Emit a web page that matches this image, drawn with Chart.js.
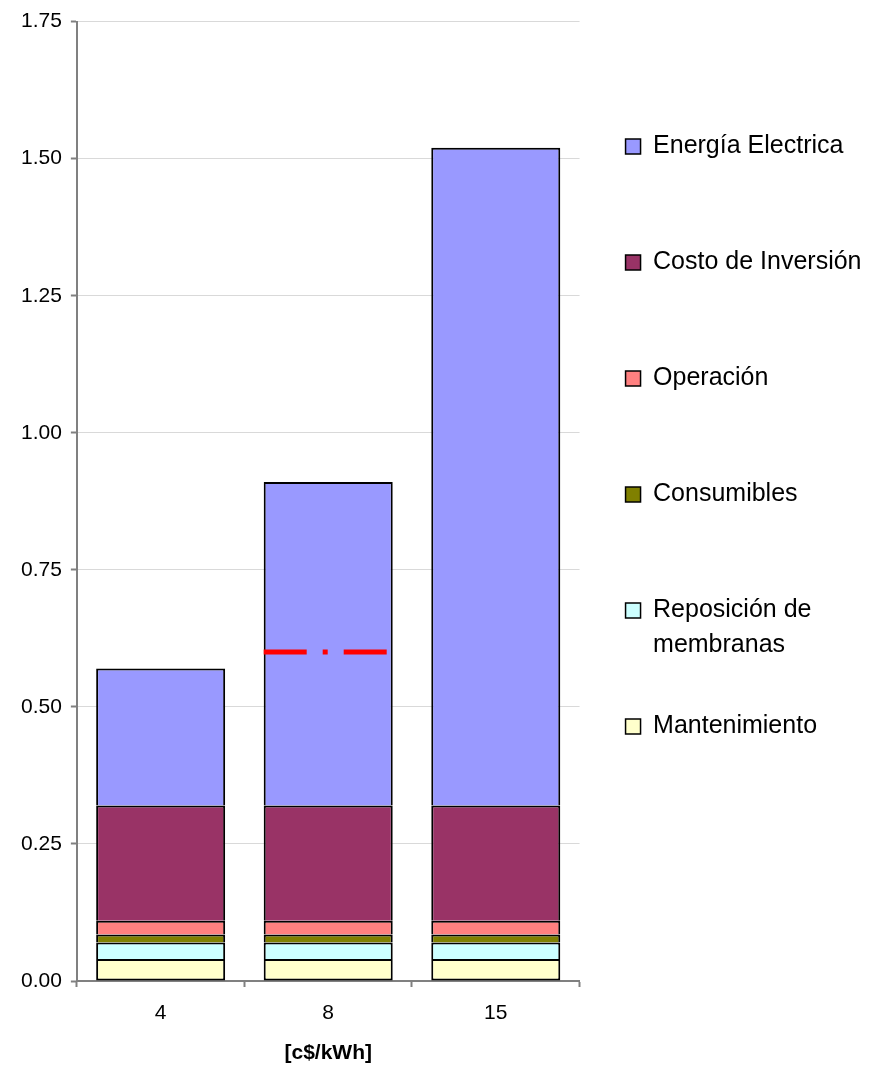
<!DOCTYPE html>
<html>
<head>
<meta charset="utf-8">
<script src="https://cdn.jsdelivr.net/npm/chart.js@4/dist/chart.umd.min.js"></script>
<style>
  html, body { margin: 0; padding: 0; background: #ffffff; }
  #wrap { width: 883px; height: 1070px; }
</style>
</head>
<body>
<div id="wrap"><canvas id="chart" width="883" height="1070"></canvas></div>
<script>
// Electricity price scenarios (x axis)
const categories = ['4', '8', '15'];

// Cost components per scenario, stacked bottom to top
const mantenimiento    = [0.04, 0.04, 0.04];
const reposicion       = [0.03, 0.03, 0.03];
const consumibles      = [0.015, 0.015, 0.015];
const operacion        = [0.025, 0.025, 0.025];
const costoInversion   = [0.21, 0.21, 0.21];
const energiaElectrica = [0.25, 0.59, 1.20];

const seriesLabels = [
  'Mantenimiento',
  ['Reposición de', 'membranas'],
  'Consumibles',
  'Operación',
  'Costo de Inversión',
  'Energía Electrica'
];

// Reference level marked over one of the bars
const referenceValue = 0.60;
const referenceCategory = '8';

// Axis range and labels
const yMin = 0, yMax = 1.75, yStep = 0.25;
const xTitle = '[c$/kWh]';

const FONT = "'Liberation Sans', Arial, sans-serif";
const AXIS_GREY = '#808080';

const seriesValues = [mantenimiento, reposicion, consumibles, operacion, costoInversion, energiaElectrica];
const seriesColors = ['#ffffcc', '#ccffff', '#808000', '#ff8080', '#993366', '#9999ff'];

const datasets = seriesValues.map((values, i) => ({
  label: seriesLabels[i],
  data: values,
  backgroundColor: seriesColors[i],
  borderColor: '#000000',
  borderWidth: 2,
  borderSkipped: i === 0 ? false : 'start',
  categoryPercentage: 1.0,
  barPercentage: 0.77
}));

// Dash-dot red line across the chosen bar at the reference level
const referenceLinePlugin = {
  id: 'referenceLine',
  afterDatasetsDraw(chart) {
    const idx = categories.indexOf(referenceCategory);
    const meta = chart.getDatasetMeta(chart.data.datasets.length - 1);
    const bar = meta.data[idx];
    if (!bar) return;
    const { x, width } = bar.getProps(['x', 'width'], true);
    const y = chart.scales.y.getPixelForValue(referenceValue);
    const ctx = chart.ctx;
    ctx.save();
    ctx.strokeStyle = '#ff0000';
    ctx.lineWidth = 5;
    ctx.lineCap = 'butt';
    ctx.setLineDash([43, 16, 5, 16]);
    ctx.beginPath();
    ctx.moveTo(x - width / 2, y);
    ctx.lineTo(x + width / 2, y);
    ctx.stroke();
    ctx.restore();
  }
};

new Chart(document.getElementById('chart'), {
  type: 'bar',
  data: { labels: categories, datasets },
  options: {
    responsive: false,
    devicePixelRatio: 1,
    animation: false,
    layout: { padding: { top: 4, right: 11.5, bottom: 0, left: 12 } },
    plugins: {
      tooltip: { enabled: false },
      legend: {
        position: 'right',
        align: 'start',
        reverse: true,
        maxWidth: 320,
        title: {
          display: true,
          text: '',
          padding: { top: 74, bottom: 0 },
          font: { size: 10, lineHeight: '10px' }
        },
        labels: {
          boxWidth: 15,
          boxHeight: 15,
          padding: 46,
          color: '#000000',
          font: { family: FONT, size: 25, lineHeight: '35px' },
          generateLabels(chart) {
            const items = Chart.defaults.plugins.legend.labels.generateLabels(chart);
            items.forEach(item => {
              item.text = Array.isArray(item.text) ? item.text : [item.text, ''];
              item.lineWidth = 1.5;
              item.strokeStyle = '#000000';
            });
            return items;
          }
        }
      }
    },
    scales: {
      x: {
        stacked: true,
        offset: true,
        grid: {
          display: true,
          drawOnChartArea: false,
          offset: true,
          tickLength: 6,
          tickColor: AXIS_GREY,
          tickWidth: 2
        },
        border: { color: AXIS_GREY, width: 2 },
        ticks: { color: '#000000', padding: 14, font: { family: FONT, size: 21 } },
        title: {
          display: true,
          text: xTitle,
          color: '#000000',
          font: { family: FONT, size: 21, weight: 'bold' },
          padding: { top: 0, bottom: 4.6 }
        }
      },
      y: {
        stacked: true,
        min: yMin,
        max: yMax,
        grid: {
          color: '#d9d9d9',
          lineWidth: 1,
          tickLength: 6,
          tickColor: AXIS_GREY,
          tickWidth: 2
        },
        border: { color: AXIS_GREY, width: 2 },
        ticks: {
          stepSize: yStep,
          padding: 9,
          color: '#000000',
          font: { family: FONT, size: 21 },
          callback: v => Number(v).toFixed(2)
        }
      }
    }
  },
  plugins: [referenceLinePlugin]
});
</script>
</body>
</html>
